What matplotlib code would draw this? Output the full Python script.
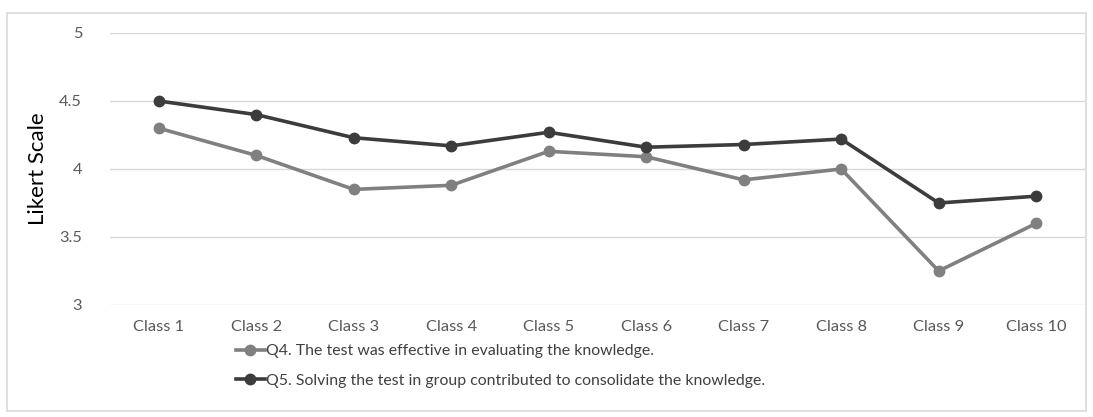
import matplotlib.pyplot as plt
from matplotlib.patches import Rectangle

classes = ["Class 1","Class 2","Class 3","Class 4","Class 5","Class 6","Class 7","Class 8","Class 9","Class 10"]
q4_scores = [4.30,4.10,3.85,3.88,4.13,4.09,3.92,4.00,3.25,3.60]
q5_scores = [4.50,4.40,4.23,4.17,4.27,4.16,4.18,4.22,3.75,3.80]
q4_label = "Q4. The test was effective in evaluating the knowledge."
q5_label = "Q5. Solving the test in group contributed to consolidate the knowledge."

plt.rcParams['font.family'] = ['Lato','DejaVu Sans']

fig = plt.figure(figsize=(10.93,4.17),dpi=100)
ax = fig.add_axes([0.1006,0.2686,0.892,0.6523])

x = list(range(len(classes)))
l4, = ax.plot(x,q4_scores,color='#808080',lw=2.6,marker='o',ms=7.5,label=q4_label)
l5, = ax.plot(x,q5_scores,color='#3c3c3c',lw=2.6,marker='o',ms=7.5,label=q5_label)

ax.set_xlim(-0.5,len(classes)-0.5)
ax.set_ylim(3,5)
ax.set_yticks([3,3.5,4,4.5,5])
ax.set_yticklabels(["3","3.5","4","4.5","5"])
ax.set_xticks(x)
ax.set_xticklabels(classes)
ax.tick_params(length=0,colors='#595959',labelsize=11.8,pad=11)
ax.tick_params(axis='y',pad=20)
ax.grid(axis='y',color='#d9d9d9',lw=1)
ax.set_axisbelow(True)
for s in ax.spines.values():
    s.set_visible(False)
ax.set_ylabel("Likert Scale",fontsize=16,labelpad=8)

# legend stacked under the category labels
fig.legend(handles=[l4,l5],loc='upper left',bbox_to_anchor=(0.216,0.175),
           frameon=False,fontsize=11.4,labelcolor='#404040',handlelength=1.8,
           handletextpad=0.1,labelspacing=1.0,borderaxespad=0,borderpad=0)

# chart frame
fig.patches.append(Rectangle((0.006,0.015),0.988,0.955,transform=fig.transFigure,
                             fill=False,edgecolor='#d9d9d9',lw=1.2))

fig.savefig("out.png",dpi=100)
